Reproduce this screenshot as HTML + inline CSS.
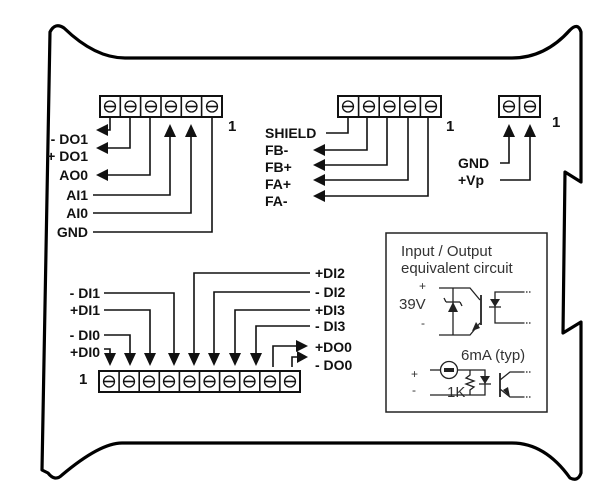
<!DOCTYPE html>
<html><head><meta charset="utf-8"><style>
html,body{margin:0;padding:0;background:#fff;}
svg{display:block;}
.l{font-family:"Liberation Sans",Arial,sans-serif;font-weight:bold;font-size:14px;fill:#111;}
.c{font-family:"Liberation Sans",Arial,sans-serif;font-size:15px;fill:#333;}
</style></head><body>
<svg width="610" height="502" viewBox="0 0 610 502" xmlns="http://www.w3.org/2000/svg">
<defs>
<g id="s"><circle cx="0" cy="0" r="5.5" fill="none" stroke="#111" stroke-width="1.3"/><line x1="-5" y1="0" x2="5" y2="0" stroke="#111" stroke-width="1.6"/></g>
</defs>
<path d="M42,470 L50,32 Q55,22 64,28 Q95,58 125,58 L512,58 Q545,58 570,30 Q578,22 581,32 L581,182 L565,172 L563,333 L581,322 L581,473 Q578,482 570,478 Q545,443 512,443 L122,443 Q100,443 62,475 Q55,482 48,473 Z" fill="none" stroke="#000" stroke-width="3.2" stroke-linejoin="round"/>

<g fill="none" stroke="#111" stroke-width="1.6">
<rect x="100" y="96" width="122" height="21" stroke-width="2"/>
<line x1="120.3" y1="96" x2="120.3" y2="117"/><line x1="140.6" y1="96" x2="140.6" y2="117"/><line x1="161" y1="96" x2="161" y2="117"/><line x1="181.3" y1="96" x2="181.3" y2="117"/><line x1="201.6" y1="96" x2="201.6" y2="117"/>
<rect x="338" y="96" width="103" height="21" stroke-width="2"/>
<line x1="358.6" y1="96" x2="358.6" y2="117"/><line x1="379.2" y1="96" x2="379.2" y2="117"/><line x1="399.8" y1="96" x2="399.8" y2="117"/><line x1="420.4" y1="96" x2="420.4" y2="117"/>
<rect x="499" y="96" width="41" height="21" stroke-width="2"/>
<line x1="519.5" y1="96" x2="519.5" y2="117"/>
<rect x="99" y="371" width="201" height="21" stroke-width="2"/>
<line x1="119.1" y1="371" x2="119.1" y2="392"/><line x1="139.2" y1="371" x2="139.2" y2="392"/><line x1="159.3" y1="371" x2="159.3" y2="392"/><line x1="179.4" y1="371" x2="179.4" y2="392"/><line x1="199.5" y1="371" x2="199.5" y2="392"/><line x1="219.6" y1="371" x2="219.6" y2="392"/><line x1="239.7" y1="371" x2="239.7" y2="392"/><line x1="259.8" y1="371" x2="259.8" y2="392"/><line x1="279.9" y1="371" x2="279.9" y2="392"/>

<polyline points="110,117 110,130 104,130"/>
<polyline points="130,117 130,148 104,148"/>
<polyline points="150,117 150,175 104,175"/>
<polyline points="93,195 170,195 170,134"/>
<polyline points="93,213 191,213 191,134"/>
<polyline points="212,117 212,232 93,232"/>
<polyline points="348,117 348,133 326,133"/>
<polyline points="367,117 367,150 320,150"/>
<polyline points="387,117 387,165 320,165"/>
<polyline points="408,117 408,180 320,180"/>
<polyline points="428,117 428,196 320,196"/>
<polyline points="500,163 509,163 509,134"/>
<polyline points="500,180 530,180 530,134"/>
<polyline points="104,349 110,349 110,355"/>
<polyline points="104,335 130,335 130,355"/>
<polyline points="104,310 150,310 150,355"/>
<polyline points="104,293 174,293 174,355"/>
<polyline points="310,273 194,273 194,355"/>
<polyline points="310,292 214,292 214,355"/>
<polyline points="310,310 235,310 235,355"/>
<polyline points="310,326 256,326 256,355"/>
<polyline points="273,367 273,346 299,346"/>
<polyline points="292,367 292,357 299,357"/>
</g>

<g fill="#111">
<use href="#s" x="110" y="106.5"/><use href="#s" x="130.5" y="106.5"/><use href="#s" x="151" y="106.5"/><use href="#s" x="171" y="106.5"/><use href="#s" x="191.5" y="106.5"/><use href="#s" x="212" y="106.5"/>
<use href="#s" x="348" y="106.5"/><use href="#s" x="369" y="106.5"/><use href="#s" x="389.5" y="106.5"/><use href="#s" x="410" y="106.5"/><use href="#s" x="431" y="106.5"/>
<use href="#s" x="509" y="106.5"/><use href="#s" x="530" y="106.5"/>
<use href="#s" x="109" y="381.5"/><use href="#s" x="129" y="381.5"/><use href="#s" x="149" y="381.5"/><use href="#s" x="169" y="381.5"/><use href="#s" x="189.5" y="381.5"/><use href="#s" x="209.5" y="381.5"/><use href="#s" x="229.5" y="381.5"/><use href="#s" x="249.5" y="381.5"/><use href="#s" x="270" y="381.5"/><use href="#s" x="290" y="381.5"/>
<polygon points="96,130 108,124 108,136"/>
<polygon points="96,148 108,142 108,154"/>
<polygon points="96,175 108,169 108,181"/>
<polygon points="170,124 164,137 176,137"/>
<polygon points="191,124 185,137 197,137"/>
<polygon points="313,150 325,144 325,156"/>
<polygon points="313,165 325,159 325,171"/>
<polygon points="313,180 325,174 325,186"/>
<polygon points="313,196 325,190 325,202"/>
<polygon points="509,124 503,137 515,137"/>
<polygon points="530,124 524,137 536,137"/>
<polygon points="110,366 104,353 116,353"/>
<polygon points="130,366 124,353 136,353"/>
<polygon points="150,366 144,353 156,353"/>
<polygon points="174,366 168,353 180,353"/>
<polygon points="194,366 188,353 200,353"/>
<polygon points="214,366 208,353 220,353"/>
<polygon points="235,366 229,353 241,353"/>
<polygon points="256,366 250,353 262,353"/>
<polygon points="308,346 296,340 296,352"/>
<polygon points="308,357 297,351 297,363"/>
</g>

<g class="l">
<text x="88" y="144" text-anchor="end">- DO1</text>
<text x="88" y="161" text-anchor="end">+ DO1</text>
<text x="88" y="180" text-anchor="end">AO0</text>
<text x="88" y="200" text-anchor="end">AI1</text>
<text x="88" y="218" text-anchor="end">AI0</text>
<text x="88" y="237" text-anchor="end">GND</text>
<text x="228" y="131" font-size="15">1</text>
<text x="265" y="138">SHIELD</text>
<text x="265" y="155">FB-</text>
<text x="265" y="172">FB+</text>
<text x="265" y="189">FA+</text>
<text x="265" y="206">FA-</text>
<text x="446" y="131" font-size="15">1</text>
<text x="552" y="127" font-size="15">1</text>
<text x="458" y="168">GND</text>
<text x="458" y="185">+Vp</text>
<text x="100" y="298" text-anchor="end">- DI1</text>
<text x="100" y="315" text-anchor="end">+DI1</text>
<text x="100" y="340" text-anchor="end">- DI0</text>
<text x="100" y="357" text-anchor="end">+DI0</text>
<text x="79" y="384" font-size="15">1</text>
<text x="315" y="278">+DI2</text>
<text x="315" y="297">- DI2</text>
<text x="315" y="315">+DI3</text>
<text x="315" y="331">- DI3</text>
<text x="315" y="352">+DO0</text>
<text x="315" y="370">- DO0</text>
</g>

<rect x="386" y="233" width="161" height="179" fill="none" stroke="#222" stroke-width="1.5"/>
<g class="c">
<text x="401" y="256">Input / Output</text>
<text x="401" y="273">equivalent circuit</text>
<text x="419" y="290" font-size="12">+</text>
<text x="399" y="309">39V</text>
<text x="421" y="327" font-size="12">-</text>
<text x="461" y="360">6mA (typ)</text>
<text x="411" y="378" font-size="12">+</text>
<text x="412" y="394" font-size="12">-</text>
<text x="447" y="397">1K</text>
</g>
<g fill="none" stroke="#222" stroke-width="1.3">
<polyline points="439,288 470,288 480,300"/>
<polyline points="439,335 470,335 480,323"/>
<line x1="453" y1="288" x2="453" y2="335"/>
<line x1="481" y1="295" x2="481" y2="325" stroke-width="1.8"/>
<line x1="446" y1="302" x2="460" y2="302"/><line x1="446" y1="302" x2="444" y2="298"/><line x1="460" y1="302" x2="462" y2="306"/>
<polyline points="523,292 495,292 495,323 523,323"/>
<line x1="489" y1="307" x2="501" y2="307"/>
<line x1="523" y1="292" x2="531" y2="292" stroke-dasharray="1.5,1.5"/>
<line x1="523" y1="323" x2="531" y2="323" stroke-dasharray="1.5,1.5"/>
<line x1="430" y1="370" x2="440" y2="370"/>
<circle cx="449" cy="370" r="8.5"/>
<polyline points="458,370 485,370 485,395 430,395"/>
<polyline points="470,370 470,375 466,378 474,381 466,384 474,387 470,390 470,395"/>
<line x1="479" y1="384" x2="491" y2="384"/>
<line x1="500" y1="373" x2="500" y2="397" stroke-width="1.8"/>
<polyline points="500,380 510,372 523,372"/>
<polyline points="500,389 510,397 523,397"/>
<line x1="523" y1="372" x2="531" y2="372" stroke-dasharray="1.5,1.5"/>
<line x1="523" y1="397" x2="531" y2="397" stroke-dasharray="1.5,1.5"/>
</g>
<g fill="#222">
<polygon points="453,302 448,312 458,312"/>
<polygon points="495,307 490,299 500,299"/>
<polygon points="472,331 476,322 480,328"/>
<rect x="444" y="368" width="10" height="4"/>
<polygon points="485,384 480,376 490,376"/>
<polygon points="510,397 503,390 508,387"/>
</g>
</svg>
</body></html>
